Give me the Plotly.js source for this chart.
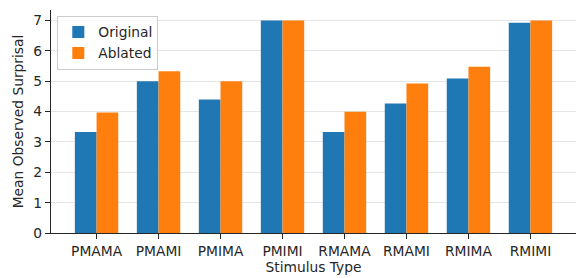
<!DOCTYPE html>
<html><head><meta charset="utf-8">
<script src="https://cdn.plot.ly/plotly-3.0.1.min.js"></script>
<style>body{margin:0;padding:0;background:#fff}#chart{width:578px;height:278px}</style>
</head><body><div id="chart"></div>
<script>
const categories = ["PMAMA","PMAMI","PMIMA","PMIMI","RMAMA","RMAMI","RMIMA","RMIMI"];
const originalValues = [3.33, 5.0, 4.40, 7.0, 3.33, 4.27, 5.09, 6.93];
const ablatedValues  = [3.97, 5.33, 5.0, 7.0, 4.0, 4.93, 5.48, 7.0];
const yTicks = [0,1,2,3,4,5,6,7];

const fs = 13.8;
const font = {family: "DejaVu Sans", size: fs, color: "#262626"};
const data = [
  {type:"bar", name:"Original", x:categories, y:originalValues, marker:{color:"#1f77b4"}},
  {type:"bar", name:"Ablated", x:categories, y:ablatedValues, marker:{color:"#ff7f0e"}}
];
const layout = {
  width:578, height:278,
  margin:{l:51, r:2, t:9.6, b:44.7},
  paper_bgcolor:"#fff", plot_bgcolor:"#fff",
  font: font,
  barmode:"group", bargap:0.3, bargroupgap:0,
  showlegend:true,
  legend:{x:0.012, y:0.975, xanchor:"left", yanchor:"top", bgcolor:"rgba(255,255,255,0.8)",
          bordercolor:"#cccccc", borderwidth:1, font:font,
          itemwidth:30, tracegroupgap:1},
  xaxis:{type:"category", range:[-0.735, 7.735], showline:true, linecolor:"#262626", linewidth:1.2,
         ticks:"outside", ticklen:5, tickwidth:1, tickcolor:"#262626", showgrid:false, zeroline:false,
         title:{text:"Stimulus Type", font:font, standoff:3},
         tickfont:font},
  yaxis:{range:[0,7.35], tickvals:yTicks, ticktext:yTicks.map(String), showline:true, linecolor:"#262626", linewidth:1.2,
         ticks:"outside", ticklen:5, tickwidth:1, tickcolor:"#262626", showgrid:true, gridcolor:"#e5e5e5", gridwidth:1,
         zeroline:false,
         title:{text:"Mean Observed Surprisal", font:font, standoff:6},
         tickfont:font}
};
Plotly.newPlot("chart", data, layout, {staticPlot:true, displayModeBar:false});
</script></body></html>
